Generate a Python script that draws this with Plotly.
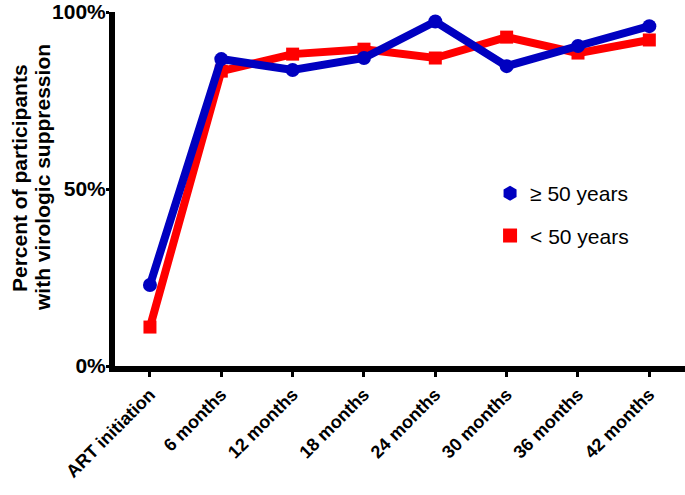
import plotly.graph_objects as go

categories = ["ART initiation", "6 months", "12 months", "18 months",
              "24 months", "30 months", "36 months", "42 months"]
over50 = [22.9, 86.7, 83.6, 87.0, 97.3, 84.7, 90.4, 96.0]
under50 = [11.0, 83.3, 88.1, 89.5, 87.0, 92.9, 88.4, 92.1]
ytick_vals = [0, 50, 100]
ytick_text = ["0%", "50%", "100%"]
title_lines = ["Percent of participants", "with virologic suppression"]

BLUE = "#0000c0"
RED = "#ff0000"
font_family = "Liberation Sans, Arial, sans-serif"

fig = go.Figure()
fig.add_trace(go.Scatter(x=categories, y=under50, mode="lines+markers",
                         line=dict(color=RED, width=8),
                         marker=dict(symbol="square", size=13, color=RED),
                         showlegend=False))
fig.add_trace(go.Scatter(x=categories, y=over50, mode="lines+markers",
                         line=dict(color=BLUE, width=8),
                         marker=dict(symbol="circle", size=14, color=BLUE),
                         showlegend=False))
# legend-only entries (marker only)
fig.add_trace(go.Scatter(x=[None], y=[None], mode="markers", name="≥ 50 years",
                         legendgroup="a",
                         marker=dict(symbol="hexagon", size=15, color=BLUE)))
fig.add_trace(go.Scatter(x=[None], y=[None], mode="markers", name="< 50 years",
                         legendgroup="b",
                         marker=dict(symbol="square", size=14, color=RED)))

PL, PW, PT, PH = 115, 570, 12, 354  # plot area in page pixels

annotations = []
for line, xc in zip(title_lines, [19, 42]):
    annotations.append(dict(text=line, textangle=-90, xref="paper", yref="paper",
                            x=(xc - PL) / PW, y=(PT + PH - 178) / PH,
                            xanchor="center", yanchor="middle", showarrow=False,
                            font=dict(size=21, family=font_family, weight="bold")))

fig.update_layout(
    width=685, height=495,
    margin=dict(l=115, r=0, t=12, b=129),
    paper_bgcolor="white", plot_bgcolor="white",
    font=dict(family=font_family, color="black"),
    legend=dict(x=0.658, y=0.545, xanchor="left", yanchor="top",
                font=dict(size=21, family=font_family),
                tracegroupgap=12, itemwidth=30,
                bgcolor="rgba(0,0,0,0)"),
    xaxis=dict(type="category", range=[-0.49, 7.5], automargin=False,
               showline=True, linecolor="black", linewidth=6,
               ticks="outside", ticklen=5, tickwidth=3, tickcolor="black",
               tickangle=-45, showgrid=False, zeroline=False,
               tickfont=dict(size=18, family=font_family, weight="bold")),
    yaxis=dict(range=[0, 100], tickvals=ytick_vals, ticktext=ytick_text,
               automargin=False, ticklabeloverflow="allow",
               ticklabelstandoff=-4,
               showline=True, linecolor="black", linewidth=6,
               ticks="outside", ticklen=3, tickwidth=3, tickcolor="black",
               showgrid=False, zeroline=False,
               tickfont=dict(size=21, family=font_family, weight="bold")),
    annotations=annotations,
)

# remove the default 8px page margin so the figure sits at the window's corner
fig.write_html("out.html", config={"displayModeBar": False},
               post_script="document.body.style.margin='0';document.body.style.overflow='hidden';")
